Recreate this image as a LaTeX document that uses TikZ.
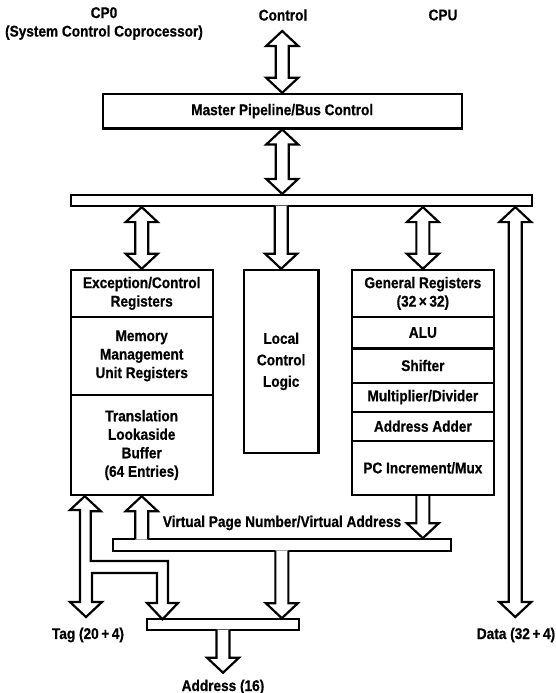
\documentclass[tikz,border=0pt]{standalone}
\usepackage{fontspec}
\setmainfont{Liberation Sans}[FakeStretch=0.88, BoldFeatures={FakeBold=0.6}]
\usetikzlibrary{calc}
\def\hw{16}
\def\hh{15}
\def\sw{6.5}
% double headed vertical arrow: #1 top tip, #2 bottom tip
\newcommand\dblv[2]{%
  \draw[arr] (#1) -- ++(\hw,\hh) -- ++({\sw-\hw},0) -- ($(#2)+(\sw,-\hh)$) -- ++({\hw-\sw},0) -- (#2)
    -- ++(-\hw,-\hh) -- ++({\hw-\sw},0) -- ($(#1)+(-\sw,\hh)$) -- ++({\sw-\hw},0) -- cycle;}
% single arrow down: #1 open start, #2 tip, #3 overshoot into source
\newcommand\sgldown[3]{%
  \fill[white] ($(#1)+(-\sw,-#3)$) -- ($(#2)+(-\sw,-\hh)$) -- ++({\sw-\hw},0) -- (#2) -- ++(\hw,-\hh)
    -- ++({\sw-\hw},0) -- ($(#1)+(\sw,-#3)$) -- cycle;
  \draw[arrs] ($(#1)+(-\sw,-1.1)$) -- ($(#2)+(-\sw,-\hh)$) -- ++({\sw-\hw},0) -- (#2) -- ++(\hw,-\hh)
    -- ++({\sw-\hw},0) -- ($(#1)+(\sw,-1.1)$);}
% single arrow up: #1 open start (below), #2 tip, #3 overshoot
\newcommand\sglup[3]{%
  \fill[white] ($(#1)+(-\sw,#3)$) -- ($(#2)+(-\sw,\hh)$) -- ++({\sw-\hw},0) -- (#2) -- ++(\hw,\hh)
    -- ++({\sw-\hw},0) -- ($(#1)+(\sw,#3)$) -- cycle;
  \draw[arrs] ($(#1)+(-\sw,1.1)$) -- ($(#2)+(-\sw,\hh)$) -- ++({\sw-\hw},0) -- (#2) -- ++(\hw,\hh)
    -- ++({\sw-\hw},0) -- ($(#1)+(\sw,1.1)$);}
\tikzset{
  lbl/.style={font=\fontsize{15.5}{18.5}\selectfont\bfseries, align=center, inner sep=0pt},
  box/.style={draw, line width=2.4pt, inner sep=0pt, lbl},
  bus/.style={draw, line width=2.2pt, fill=white, inner sep=0pt},
  arr/.style={draw, line width=2.2pt, fill=white, line join=miter, miter limit=10},
  arrs/.style={draw, line width=2.2pt, line join=miter, miter limit=10},
}
\begin{document}
\begin{tikzpicture}[x=1pt,y=-1pt]
\useasboundingbox (0,0) rectangle (555,693);
% titles
\node[lbl] (cp0) at (104,23.5) {CP0\\(System Control Coprocessor)};
\node[lbl] (ctl) at (283,15) {Control};
\node[lbl] (cpu) at (443,15) {CPU};
% boxes
\node[box, minimum width=359pt, minimum height=34.3pt] (master) at (282.2,111.15) {Master Pipeline/Bus Control};
\node[bus, minimum width=461pt, minimum height=11pt] (topbus) at (301.2,200.5) {};
\node[box, minimum width=142pt, minimum height=46.7pt] (exc) at (141.7,293.35) {Exception/Control\\Registers};
\node[box, minimum width=142pt, minimum height=78.3pt] (mmu) at (141.7,355.85) {Memory\\Management\\Unit Registers};
\node[box, minimum width=142pt, minimum height=100pt] (tlb) at (141.7,445) {Translation\\Lookaside\\Buffer\\(64 Entries)};
\node[box, minimum width=74.3pt, minimum height=182.7pt, font=\fontsize{15.5}{21.5}\selectfont\bfseries] (local) at (281.15,361.35) {Local\\Control\\Logic};
\node[box, minimum width=142.3pt, minimum height=46.7pt] (gr) at (422.85,293.35) {General Registers\\(32\,×\,32)};
\node[box, minimum width=142.3pt, minimum height=31.6pt] (alu) at (422.85,332.5) {ALU};
\node[box, minimum width=142.3pt, minimum height=34.4pt] (shf) at (422.85,365.5) {Shifter};
\node[box, minimum width=142.3pt, minimum height=29pt] (mul) at (422.85,397.2) {Multiplier/Divider};
\node[box, minimum width=142.3pt, minimum height=29pt] (add) at (422.85,426.2) {Address Adder};
\node[box, minimum width=142.3pt, minimum height=54.3pt] (pc) at (422.85,467.85) {PC Increment/Mux};
\node[bus, minimum width=337.7pt, minimum height=11.5pt] (vpnbus) at (281.85,545) {};
\node[bus, minimum width=152.6pt, minimum height=10.7pt] (addrbus) at (223,624.65) {};
% labels
\node[lbl] (vpn) at (282,523) {Virtual Page Number/Virtual Address};
\node[lbl] (tag) at (88,635) {Tag (20\,+\,4)};
\node[lbl] (data) at (516,635) {Data (32\,+\,4)};
\node[lbl] (addr) at (223,687) {Address (16)};
% free ends
\coordinate (ctltop) at (282.2,31);
\coordinate (datax) at (515.3,0);
\coordinate (dataend) at (515.3,617);
\coordinate (addrend) at (223,672.7);
% connectors
\dblv{ctltop}{master.north}
\dblv{master.south}{master.south |- topbus.north}
\dblv{exc.north |- topbus.south}{exc.north}
\dblv{gr.north |- topbus.south}{gr.north}
\dblv{datax |- topbus.south}{dataend}
\sgldown{local.north |- topbus.south}{local.north}{1.5}
\sgldown{pc.south}{pc.south |- vpnbus.north}{-1.4}
\sglup{tlb.south |- vpnbus.north}{tlb.south}{1.5}
\sgldown{vpnbus.south}{vpnbus.south |- addrbus.north}{1.5}
\sgldown{addrbus.south}{addrend}{1.5}
% tag arrow with branch to address bus
\draw[arr] ($(tlb.south west)+(15.3,0)$) coordinate (tagtip)
  -- ++(16,15) -- ++(-10,0) |- (168,561) |- (178,603) -- (162.5,619.3)
  -- (147,603) -- (157,603) |- (92,573) |- (102,602) -- (86,617) -- (70,602) -- (80,602)
  |- (70,510) -- cycle;
\end{tikzpicture}
\end{document}
